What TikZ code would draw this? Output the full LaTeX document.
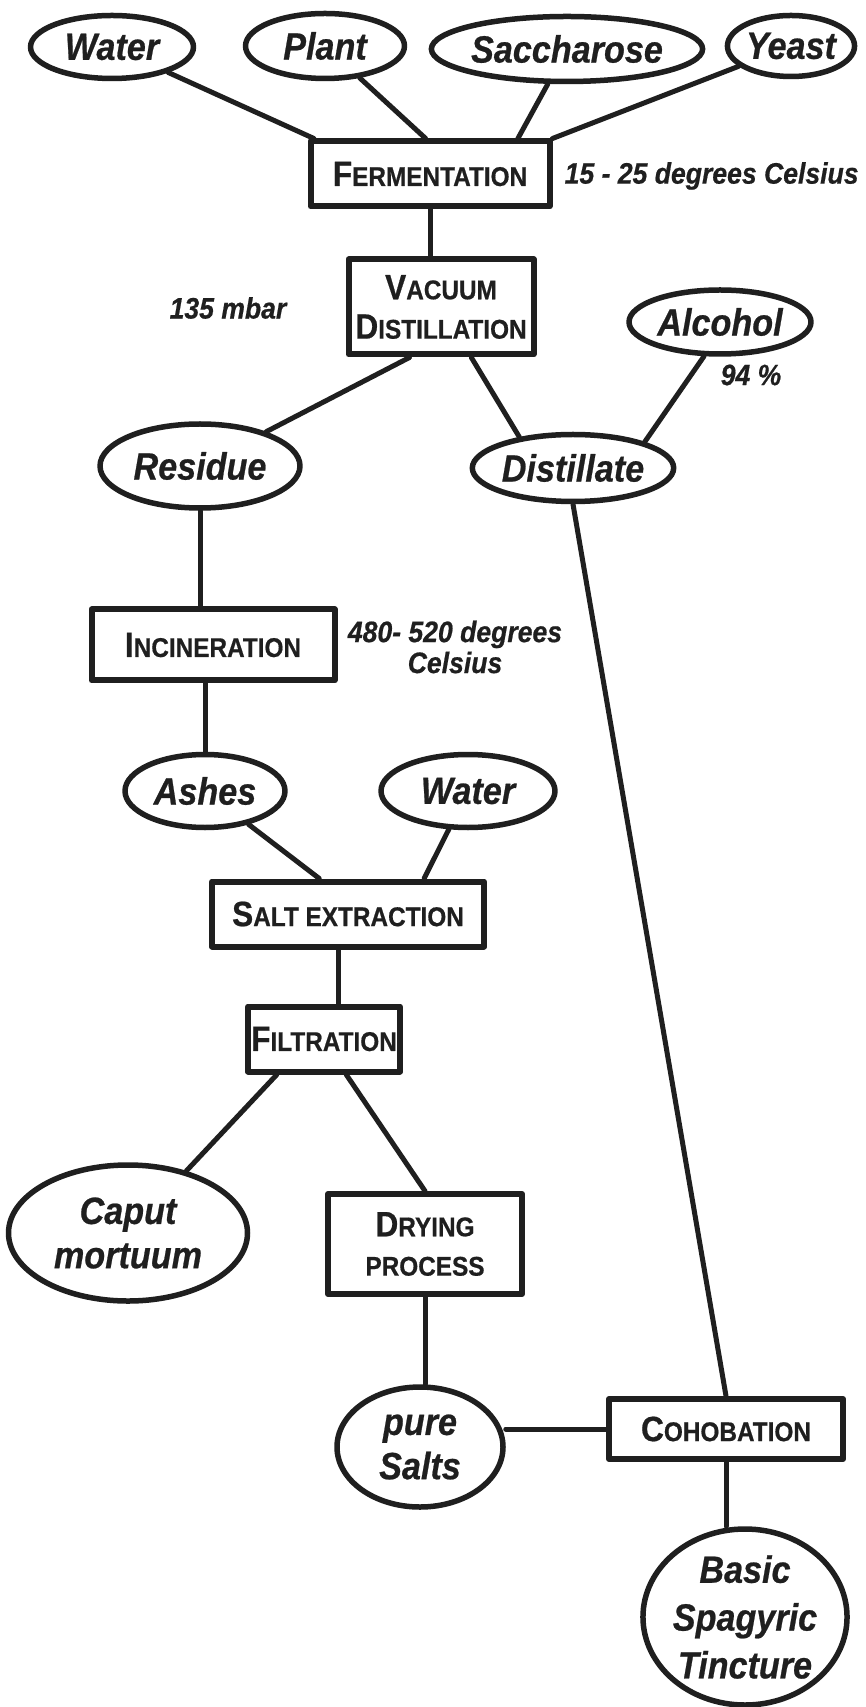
\documentclass[tikz,border=0pt]{standalone}
\usepackage{fontspec}
\newfontfamily\diafont[FakeStretch=0.9,BoldFeatures={FakeBold=0.6},BoldItalicFeatures={FakeBold=0.6}]{Liberation Sans}
\usetikzlibrary{shapes.geometric}
\definecolor{ink}{HTML}{1F1F1F}
\newcommand{\stagename}[2]{{\fontsize{10}{11.4}\selectfont #1}{\fontsize{7.7}{11.4}\selectfont #2}}

\begin{document}
\begin{tikzpicture}[line join=round,line cap=round,
  stuff/.style={ellipse,draw=ink,text=ink,line width=0.55mm,inner sep=0pt,align=center,
    font=\diafont\bfseries\itshape\fontsize{10.8}{12.6}\selectfont},
  stage/.style={rectangle,draw=ink,text=ink,line width=0.6mm,inner sep=0pt,align=center,
    font=\diafont\bfseries\fontsize{10}{11.2}\selectfont},
  note/.style={text=ink,inner sep=0pt,align=center,
    font=\diafont\bfseries\itshape\fontsize{8.4}{8.8}\selectfont},
  link/.style={draw=ink,line width=0.5mm}]
  \useasboundingbox[fill=white] (0,0) rectangle (8.65,-17.07);

  % ingredients
  \node[stuff,minimum width=1.63cm,minimum height=0.63cm] (water) at (1.12,-0.47) {Water};
  \node[stuff,minimum width=1.59cm,minimum height=0.65cm] (plant) at (3.25,-0.46) {Plant};
  \node[stuff,minimum width=2.59cm,minimum height=0.65cm] (sacch) at (5.67,-0.49) {Saccharose};
  \node[stuff,minimum width=1.24cm,minimum height=0.61cm] (yeast) at (7.91,-0.46) {Yeast};

  \node[stage,minimum width=2.39cm,minimum height=0.65cm] (ferm) at (4.30,-1.74) {\stagename{F}{ERMENTATION}};
  \node[note,anchor=west] (fermnote) at (5.64,-1.76) {15 - 25 degrees Celsius};

  \node[stage,minimum width=1.85cm,minimum height=0.95cm] (vac) at (4.41,-3.07) {\stagename{V}{ACUUM}\\\stagename{D}{ISTILLATION}};
  \node[note] (vacnote) at (2.28,-3.08) {135 mbar};
  \node[stuff,minimum width=1.82cm,minimum height=0.64cm] (alc) at (7.20,-3.22) {Alcohol};
  \node[note] (alcnote) at (7.51,-3.75) {94 \%};

  \node[stuff,minimum width=2.00cm,minimum height=0.84cm] (res) at (2.00,-4.66) {Residue};
  \node[stuff,minimum width=1.93cm,minimum height=0.67cm] (dist) at (5.73,-4.68) {Distillate};

  \node[stage,minimum width=2.43cm,minimum height=0.71cm] (inc) at (2.13,-6.45) {\stagename{I}{NCINERATION}};
  \node[note] (incnote) at (4.55,-6.47) {480- 520 degrees\\Celsius};

  \node[stuff,minimum width=1.60cm,minimum height=0.73cm] (ash) at (2.05,-7.91) {Ashes};
  \node[stuff,minimum width=1.74cm,minimum height=0.73cm] (water2) at (4.68,-7.91) {Water};

  \node[stage,minimum width=2.72cm,minimum height=0.65cm] (salt) at (3.48,-9.14) {\stagename{S}{ALT EXTRACTION}};
  \node[stage,minimum width=1.52cm,minimum height=0.65cm] (filt) at (3.24,-10.39) {\stagename{F}{ILTRATION}};

  \node[stuff,minimum width=2.39cm,minimum height=1.36cm] (caput) at (1.28,-12.33) {Caput\\mortuum};
  \node[stage,minimum width=1.94cm,minimum height=1.00cm] (dry) at (4.25,-12.44) {\stagename{D}{RYING}\\\stagename{}{PROCESS}};

  \node[stuff,minimum width=1.66cm,minimum height=1.20cm] (salts) at (4.20,-14.47) {pure\\Salts};
  \node[stage,minimum width=2.34cm,minimum height=0.60cm] (coh) at (7.26,-14.29) {\stagename{C}{OHOBATION}};
  \node[stuff,minimum width=1.95cm,minimum height=1.76cm,font=\diafont\bfseries\itshape\fontsize{10.8}{13.6}\selectfont] (basic) at (7.45,-16.17) {Basic\\Spagyric\\Tincture};

  % connectors
  \draw[link] (water) -- (ferm.163);
  \draw[link] (plant) -- (ferm.97);
  \draw[link] (sacch) -- (ferm.22);
  \draw[link] (yeast) -- (ferm.north east);
  \draw[link] (ferm.south) -- (ferm.south |- vac.north);
  \draw[link] (vac.238) -- (res);
  \draw[link] (vac.301) -- (dist.150);
  \draw[link] (alc.245) -- (dist.20);
  \draw[link] (res.south) -- (res.south |- inc.north);
  \draw[link] (dist.south) -- (coh.north);
  \draw[link] (ash.north) -- (ash.north |- inc.south);
  \draw[link] (ash) -- (salt.129);
  \draw[link] (water2) -- (salt.25.5);
  \draw[link] (filt.68) -- (filt.68 |- salt.south);
  \draw[link] (filt.217) -- (caput);
  \draw[link] (filt.302) -- (dry.north);
  \draw[link] (dry.south) -- (dry.south |- salts.north);
  \draw[link] (coh.west) -- (coh.west -| salts.east);
  \draw[link] (coh.south) -- (coh.south |- basic.north);
\end{tikzpicture}
\end{document}
